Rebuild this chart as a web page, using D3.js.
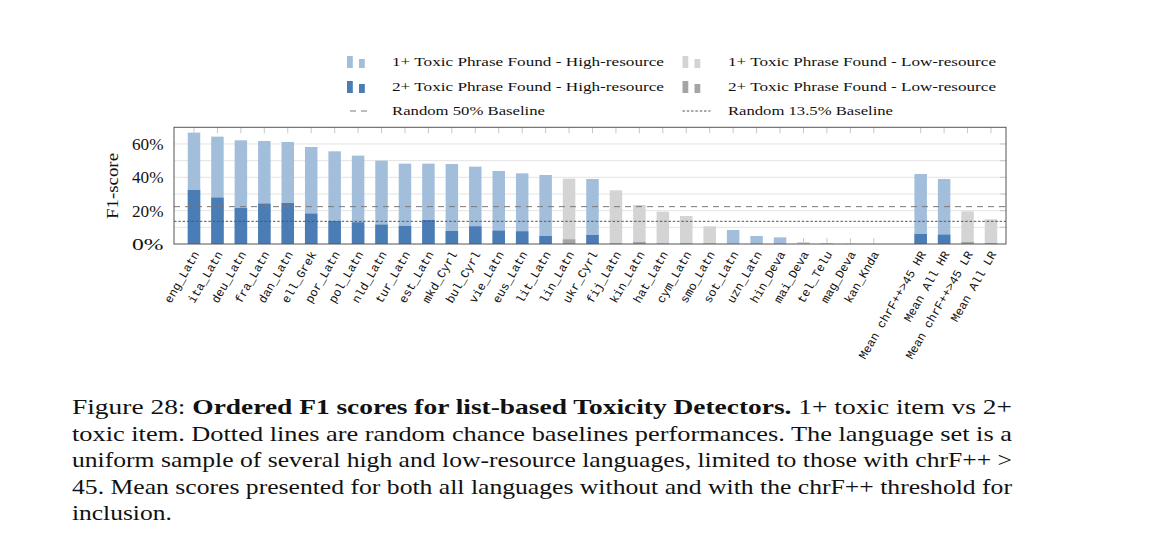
<!DOCTYPE html>
<html><head><meta charset="utf-8">
<script src="https://cdn.jsdelivr.net/npm/d3@7"></script>
<style>body{margin:0;background:#fff}svg{display:block}</style>
</head><body>
<svg id="c" width="1162" height="557"></svg>
<script>
// ---------- data ----------
const categories = ["eng_Latn","ita_Latn","deu_Latn","fra_Latn","dan_Latn","ell_Grek","por_Latn","pol_Latn","nld_Latn","tur_Latn","est_Latn","mkd_Cyrl","bul_Cyrl","vie_Latn","eus_Latn","lit_Latn","lin_Latn","ukr_Cyrl","fij_Latn","kin_Latn","hat_Latn","cym_Latn","smo_Latn","sot_Latn","uzn_Latn","hin_Deva","mai_Deva","tel_Telu","mag_Deva","kan_Knda","","Mean chrF++>45 HR","Mean All HR","Mean chrF++>45 LR","Mean All LR"];
const oneToxic = [66.8,64.4,62.2,61.8,61.2,58.2,55.6,53.0,50.0,48.2,48.2,48.0,46.4,43.8,42.4,41.4,39.2,39.0,32.2,23.4,19.4,16.8,10.6,8.4,4.8,4.0,1.2,0.6,0.2,0.0,null,42.0,39.0,19.6,14.8];
const twoToxic = [32.4,27.8,21.6,24.2,24.6,18.2,13.8,13.0,11.6,10.8,14.4,7.8,10.6,8.0,7.6,4.8,2.8,5.4,0.4,1.2,0.2,0.3,0.2,0,0,0,0,0,0,0,null,6.0,5.6,1.2,0.5];
const resource = ["H","H","H","H","H","H","H","H","H","H","H","H","H","H","H","H","L","H","L","L","L","L","L","H","H","H","L","L","L","L","","H","H","L","L"];
const yTickValues = [0,20,40,60];
const yGridValues = [10,20,30,40,50,60];
const baselines = [{name:"Random 50% Baseline", value:22.4, dash:"6,5", color:"#7a7a7a"},
                   {name:"Random 13.5% Baseline", value:13.6, dash:"2.5,1.8", color:"#555"}];
const legendItems = ["1+ Toxic Phrase Found - High-resource","2+ Toxic Phrase Found - High-resource","Random 50% Baseline","1+ Toxic Phrase Found - Low-resource","2+ Toxic Phrase Found - Low-resource","Random 13.5% Baseline"];
const captionLines = [
  [["Figure 28: ",false],["Ordered F1 scores for list-based Toxicity Detectors.",true],[" 1+ toxic item vs 2+",false]],
  [["toxic item. Dotted lines are random chance baselines performances. The language set is a",false]],
  [["uniform sample of several high and low-resource languages, limited to those with chrF++ >",false]],
  [["45. Mean scores presented for both all languages without and with the chrF++ threshold for",false]],
  [["inclusion.",false]]
];

// ---------- styles ----------
const colors = {H1:"#a3bedb", H2:"#4a7cb5", L1:"#d4d4d4", L2:"#a5a5a5"};
const serif = "'Liberation Serif','Times New Roman',serif";
const mono = "'Liberation Mono','DejaVu Sans Mono',monospace";

const svg = d3.select("#c");
const plot = {left:174, right:1006, top:127.3, bottom:244};

const x = d3.scalePoint().domain(d3.range(categories.length)).range([194, 991]);
const y = d3.scaleLinear().domain([0,70]).range([plot.bottom, plot.top]);
const bw = 12.5;

function fit(sel, w, adj){ sel.attr("textLength", w).attr("lengthAdjust", adj || "spacingAndGlyphs"); return sel; }

// grid
const g = svg.append("g");
g.selectAll("line.grid").data(yGridValues).join("line")
  .attr("x1",plot.left).attr("x2",plot.right)
  .attr("y1",d=>y(d)).attr("y2",d=>y(d))
  .attr("stroke","#e3e3e3").attr("stroke-width",1);

// x ticks (top & bottom, inward)
const tickIdx = d3.range(categories.length).filter(i=>categories[i]!=="");
g.selectAll("line.tt").data(tickIdx).join("line")
  .attr("x1",i=>x(i)).attr("x2",i=>x(i)).attr("y1",plot.top).attr("y2",plot.top+6)
  .attr("stroke","#c8c8c8");
g.selectAll("line.tb").data(tickIdx).join("line")
  .attr("x1",i=>x(i)).attr("x2",i=>x(i)).attr("y1",plot.bottom).attr("y2",plot.bottom-6)
  .attr("stroke","#c8c8c8");
// y ticks on right side
g.selectAll("line.yr").data(yGridValues).join("line")
  .attr("x1",plot.right).attr("x2",plot.right-6).attr("y1",d=>y(d)).attr("y2",d=>y(d))
  .attr("stroke","#c8c8c8");

// bars
const idx = d3.range(categories.length).filter(i=>oneToxic[i]!==null);
g.selectAll("rect.b1").data(idx).join("rect")
  .attr("x",i=>x(i)-bw/2).attr("width",bw)
  .attr("y",i=>y(oneToxic[i])).attr("height",i=>y(0)-y(oneToxic[i]))
  .attr("fill",i=>colors[resource[i]+"1"]);
g.selectAll("rect.b2").data(idx).join("rect")
  .attr("x",i=>x(i)-bw/2).attr("width",bw)
  .attr("y",i=>y(twoToxic[i])).attr("height",i=>y(0)-y(twoToxic[i]))
  .attr("fill",i=>colors[resource[i]+"2"]);

// baselines
g.selectAll("line.base").data(baselines).join("line")
  .attr("x1",plot.left).attr("x2",plot.right)
  .attr("y1",d=>y(d.value)).attr("y2",d=>y(d.value))
  .attr("stroke",d=>d.color).attr("stroke-width",1).attr("stroke-dasharray",d=>d.dash);

// frame
g.append("rect").attr("x",plot.left).attr("y",plot.top)
  .attr("width",plot.right-plot.left).attr("height",plot.bottom-plot.top)
  .attr("fill","none").attr("stroke","#555").attr("stroke-width",1);

// y axis labels
g.selectAll("text.yt").data(yTickValues).join("text")
  .attr("x",163.5).attr("y",d=>y(d)).attr("dy","0.36em")
  .attr("text-anchor","end").attr("font-family",serif).attr("font-size",16.5)
  .attr("fill","#111").text(d=>d+"%")
  .each(function(){ fit(d3.select(this), 31.5); });

svg.append("text").attr("transform","translate(118,186) rotate(-90)")
  .attr("text-anchor","middle").attr("font-family",serif).attr("font-size",16.5)
  .attr("fill","#111").text("F1-score").call(s=>fit(s,66));

// x labels
g.selectAll("text.xt").data(tickIdx).join("text")
  .attr("transform",i=>`translate(${x(i)+2},${plot.bottom+8}) rotate(-60)`)
  .attr("text-anchor","end").attr("dy","0.35em")
  .attr("font-family",mono).attr("font-size",12).attr("fill","#111")
  .text(i=>categories[i]);

// legend
const legX = [347, 682.5], textX = [392, 728], rowY = [62, 87, 111];
const legWidths = [272, 272, 153, 268, 268, 165];
legendItems.forEach((t,k)=>{
  const col = Math.floor(k/3), row = k%3;
  const lx = legX[col], cy = rowY[row];
  const lg = svg.append("g");
  if(row<2){
    const c = colors[(col===0?"H":"L")+(row+1)];
    lg.append("rect").attr("x",lx).attr("y",cy-6).attr("width",5.8).attr("height",12).attr("fill",c);
    lg.append("rect").attr("x",lx+12).attr("y",cy-3).attr("width",5.8).attr("height",9).attr("fill",c);
  } else {
    const b = baselines[col];
    lg.append("line").attr("x1",lx+ (col===0?3:0)).attr("x2",lx+ (col===0?21:28)).attr("y1",cy).attr("y2",cy)
      .attr("stroke",b.color).attr("stroke-dasharray",b.dash);
  }
  lg.append("text").attr("x",textX[col]).attr("y",cy).attr("dy","0.33em")
    .attr("font-family",serif).attr("font-size",13).attr("fill","#111")
    .text(t).call(s=>fit(s,legWidths[k]));
});

// caption
const capX = 72, capRight = 1012, capY0 = 414, capDY = 26.5;
let scales = [];
captionLines.forEach((line,li)=>{
  const t = svg.append("text").attr("x",capX).attr("y",capY0+li*capDY)
    .attr("font-family",serif).attr("font-size",21).attr("fill","#111");
  line.forEach(([s,b])=>{
    t.append("tspan").attr("font-weight",b?"bold":"normal").text(s);
  });
  const nat = t.node().getComputedTextLength();
  if(li < captionLines.length-1){
    scales.push((capRight-capX)/nat);
    fit(t, capRight-capX);
  } else {
    fit(t, nat*d3.mean(scales)*0.97);
  }
});
</script>
</body></html>
